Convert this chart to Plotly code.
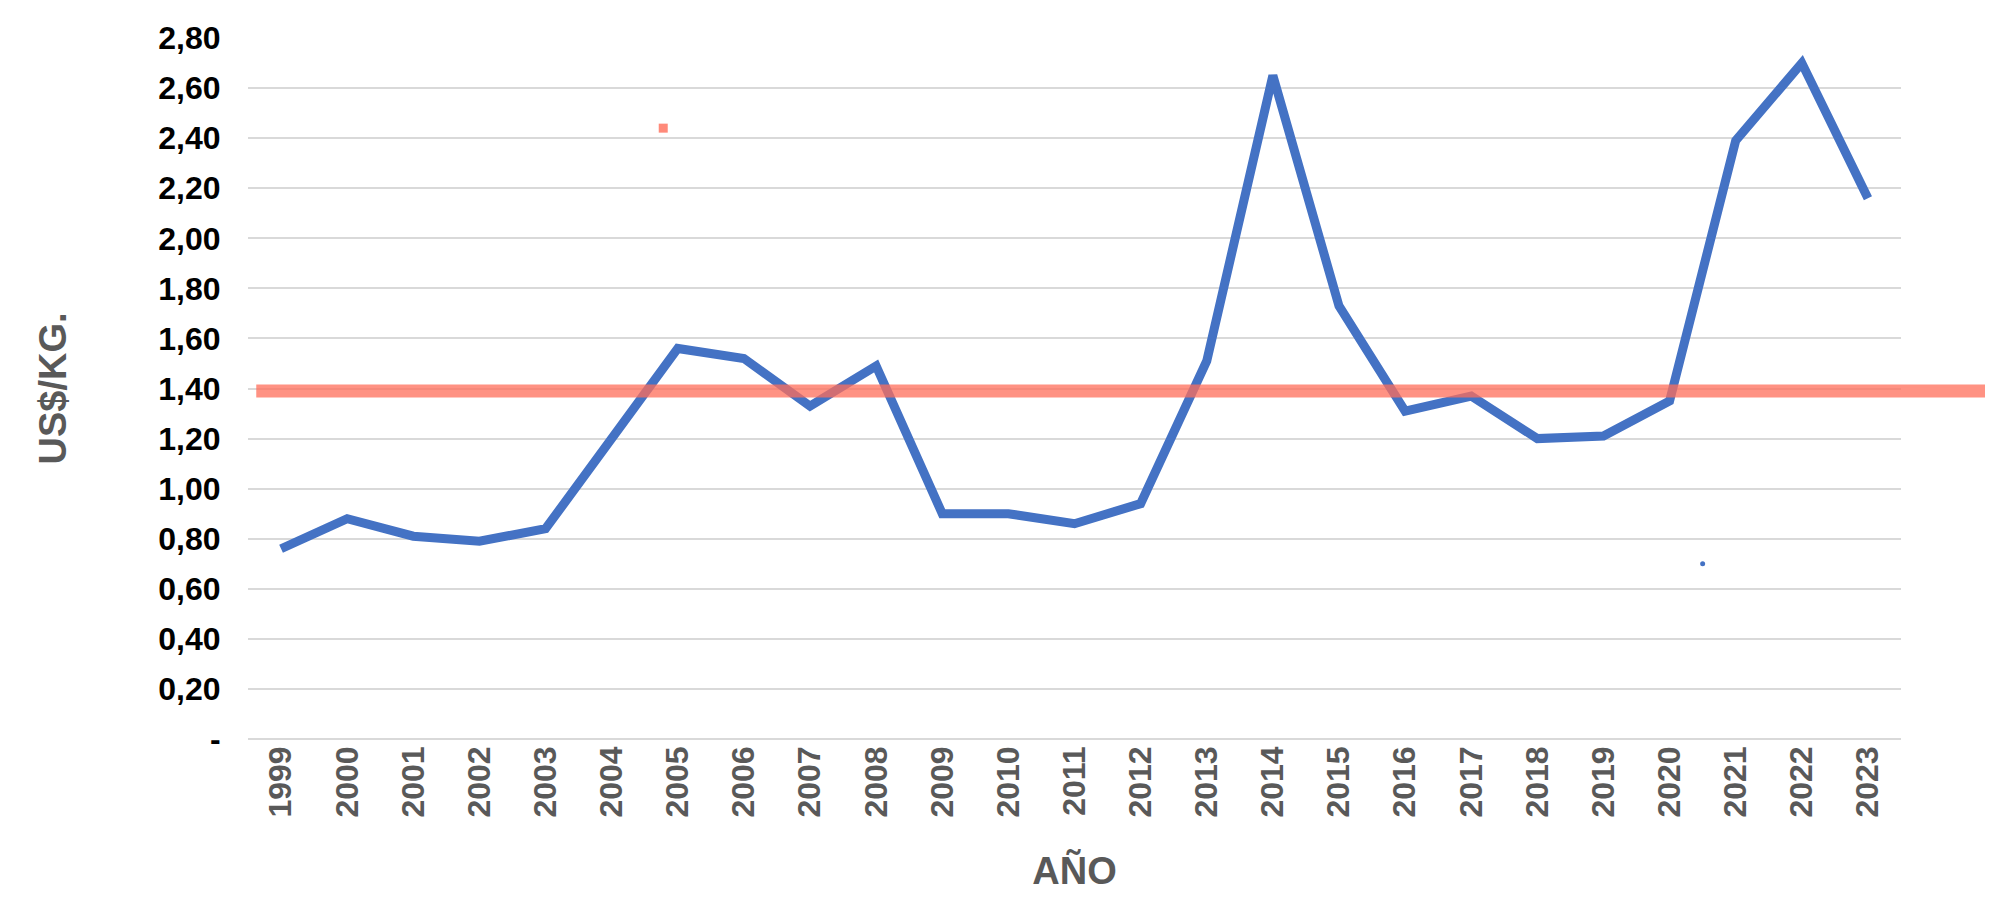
import plotly.graph_objects as go

years = list(range(1999, 2024))
prices = [0.76, 0.88, 0.81, 0.79, 0.84, 1.20, 1.56, 1.52, 1.33, 1.49, 0.90, 0.90, 0.86, 0.94,
          1.51, 2.65, 1.73, 1.31, 1.37, 1.20, 1.21, 1.35, 2.39, 2.70, 2.16]
avg_value = 1.39
ytick_vals = [0, 0.2, 0.4, 0.6, 0.8, 1.0, 1.2, 1.4, 1.6, 1.8, 2.0, 2.2, 2.4, 2.6, 2.8]
ytick_text = ["-"] + [f"{v:.2f}".replace(".", ",") for v in ytick_vals[1:]]

fig = go.Figure()
fig.add_trace(go.Scatter(x=years, y=prices, mode="lines",
                         line=dict(color="#4472C4", width=9), showlegend=False))
fig.add_trace(go.Scatter(x=[2004.78], y=[2.44], mode="markers",
                         marker=dict(symbol="square", color="#FF8A7A", size=9), showlegend=False))
fig.add_trace(go.Scatter(x=[2020.5], y=[0.70], mode="markers",
                         marker=dict(color="#4472C4", size=5), showlegend=False))
fig.add_shape(type="line", xref="paper", yref="y", x0=0.005, x1=1.2, y0=avg_value, y1=avg_value,
              line=dict(color="rgba(255,110,90,0.75)", width=13))

fig.update_layout(
    width=1993, height=909, plot_bgcolor="white", paper_bgcolor="white",
    margin=dict(l=240, r=100, t=20, b=178),
    font=dict(family="Liberation Sans, Arial", color="#000"),
    xaxis=dict(range=[1998.5, 2023.5], tickmode="array", tickvals=years,
               ticktext=[str(y) for y in years], tickangle=-90,
               tickfont=dict(size=32, color="#595959", weight="bold"),
               showgrid=False, showline=False, zeroline=False,
               title=dict(text="AÑO", font=dict(size=38, color="#595959", weight="bold"), standoff=40)),
    yaxis=dict(range=[0, 2.8001], tickmode="array", tickvals=ytick_vals, ticktext=ytick_text,
               tickfont=dict(size=32, color="#000", weight="bold"), gridcolor="#D9D9D9", gridwidth=1.5,
               zeroline=True, zerolinecolor="#D9D9D9", zerolinewidth=1.5, ticklen=20, ticks="outside",
               tickcolor="white",
               title=dict(text="US$/KG.", font=dict(size=38, color="#595959", weight="bold"), standoff=80)),
)
fig.write_html("out.html")
